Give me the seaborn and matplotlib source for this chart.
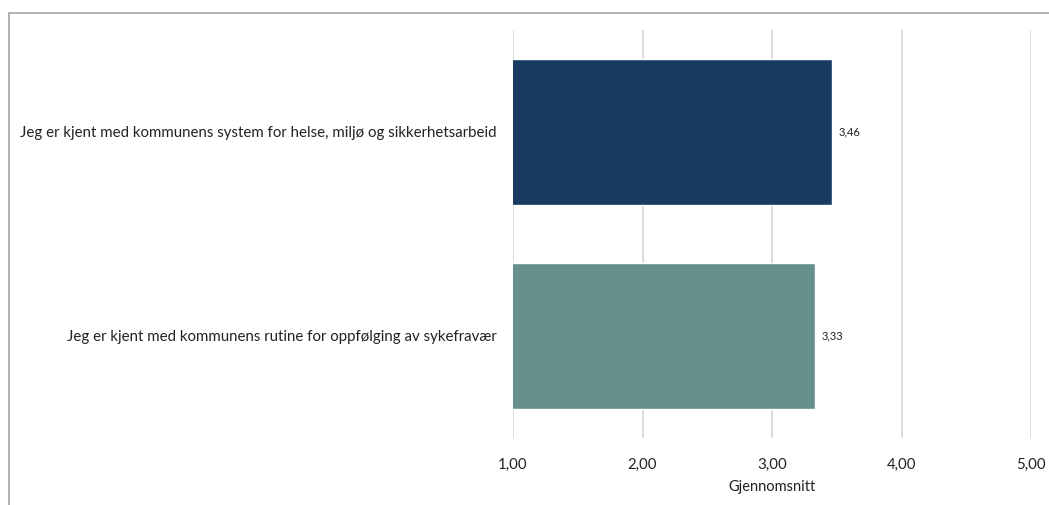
import pandas as pd
import matplotlib.pyplot as plt
import seaborn as sns
from matplotlib.lines import Line2D

categories = [
    "Jeg er kjent med kommunens system for helse, miljø og sikkerhetsarbeid",
    "Jeg er kjent med kommunens rutine for oppfølging av sykefravær",
]
values = [3.46, 3.33]
colors = ["#173b63", "#66908c"]
ticks = [1, 2, 3, 4, 5]

df = pd.DataFrame({"kategori": categories, "snitt": values})

sns.set_theme(style="white")
plt.rcParams["font.family"] = ["Lato", "DejaVu Sans"]

fig = plt.figure(figsize=(10.49, 5.05), dpi=100)
ax = fig.add_axes([0.489, 0.1327, 0.494, 0.8079])

sns.barplot(data=df, x="snitt", y="kategori", hue="kategori", palette=colors,
            saturation=1, width=0.72, legend=False, ax=ax, zorder=2)

ax.set_xlim(1, 5)
ax.set_ylim(1.5, -0.5)
ax.set_xticks(ticks)
ax.set_xticklabels([f"{t:.2f}".replace(".", ",") for t in ticks], fontsize=10.8, color="#222222")
ax.tick_params(axis="x", length=0, pad=14)
ax.tick_params(axis="y", length=0, pad=12, labelsize=10.8, labelcolor="#222222")
ax.xaxis.grid(True, color="#d9d9d9", linewidth=1.3, zorder=0)
ax.set_axisbelow(True)
ax.set_ylabel("")
ax.set_xlabel("Gjennomsnitt", fontsize=10.5, color="#222222", labelpad=6)
for s in ax.spines.values():
    s.set_visible(False)

for i, v in enumerate(values):
    ax.text(v + 0.05, i, f"{v:.2f}".replace(".", ","), va="center", ha="left",
            fontsize=8, color="#222222")

# frame lines at top and left of the picture
fig.add_artist(Line2D([0.0086, 1.0], [0.974, 0.974], color="#a6a6a6", linewidth=1.2))
fig.add_artist(Line2D([0.0086, 0.0086], [0.0, 0.974], color="#a6a6a6", linewidth=1.2))

fig.savefig("out.png", dpi=100)
